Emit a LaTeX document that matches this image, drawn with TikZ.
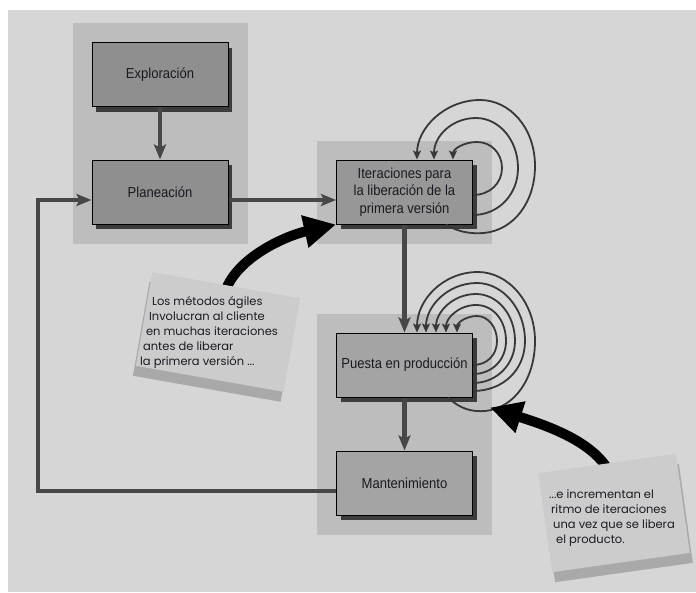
\documentclass[tikz,border=0pt]{standalone}
\usepackage{fontspec}
\setmainfont{Liberation Sans}
\newfontfamily\boxfont[FakeStretch=0.9]{Liberation Sans}
\newfontfamily\notefont{Poppins}
\usetikzlibrary{arrows.meta,shadows,fit,backgrounds,calc}
\definecolor{bgc}{HTML}{D6D6D6}
\definecolor{panelc}{HTML}{BDBDBD}
\definecolor{boxa}{HTML}{8F8F8F}
\definecolor{boxb}{HTML}{979797}
\definecolor{boxc}{HTML}{A4A4A4}
\definecolor{shadc}{HTML}{3C3C3C}
\definecolor{connc}{HTML}{474747}
\definecolor{loopcol}{HTML}{383838}
\definecolor{notec}{HTML}{CCCCCC}
\definecolor{noteshc}{HTML}{A9A9A9}
\definecolor{txtc}{HTML}{1A1A22}
\pgfdeclarelayer{front}
\pgfsetlayers{background,main,front}
\newcommand{\notelines}[1]{\notefont\fontsize{11.5}{15}\selectfont\begin{tabular}{@{}l@{}}#1\end{tabular}}
\begin{document}
\begin{tikzpicture}[x=1pt,y=-1pt,
  procbox/.style={draw=black, line width=1pt, minimum width=136pt, minimum height=64pt,
    inner sep=2pt, align=center, text=txtc,
    font=\boxfont\fontsize{14.5}{17.7}\selectfont,
    drop shadow={shadow xshift=4pt, shadow yshift=-5pt, fill=shadc, opacity=1}},
  panel/.style={fill=panelc, draw=none, inner sep=19pt},
  conn/.style={draw=connc, line width=4.5pt, line join=miter,
    -{Stealth[length=15pt,width=12pt,inset=3pt]}},
  looparr/.style={draw=loopcol, line width=1.8pt,
    -{Stealth[length=9pt,width=8pt,inset=2pt]}},
  bigarrow/.style={draw=black, line width=10pt,
    -{Triangle[length=32pt,width=31pt]}},
  note/.style={fill=notec, minimum width=#1, inner sep=0pt},
  noteshadow/.style={fill=noteshc, minimum width=#1, inner sep=0pt},
  notetext/.style={inner sep=0pt, text=txtc}
]
\useasboundingbox (0,0) rectangle (696,592);

% boxes
\node[procbox, fill=boxa] (expl) at (160,74.5) {Exploración};
\node[procbox, fill=boxa] (plan) at (160,192) {Planeación};
\node[procbox, fill=boxb] (iter) at (404.5,192) {Iteraciones para\\la liberación de la\\primera versión};
\node[procbox, fill=boxc] (pues) at (404.5,365) {Puesta en producción};
\node[procbox, fill=boxc] (mant) at (404.5,483) {Mantenimiento};

% background and panels
\begin{scope}[on background layer]
  \fill[bgc] (8,10) rectangle (696,592);
  \node[panel, fit=(expl)(plan)] (p1) {};
  \node[panel, fit=(iter)] (p2) {};
  \node[panel, fit=(pues)(mant)] (p3) {};
\end{scope}

% main connectors
\coordinate (lc) at (38,200);
\draw[conn] (expl) -- (plan);
\draw[conn] ([yshift=-8pt]plan.east) -- ([yshift=-8pt]iter.west);
\draw[conn] (iter) -- (pues);
\draw[conn] (pues) -- (mant);
\draw[conn] ([yshift=-8pt]mant.west) -| (lc) -- ([yshift=-8pt]plan.west);

% loops around Iteraciones
\draw[looparr] ([yshift=-3pt]iter.east) .. controls (490,195) and (502,183) .. (502,168)
  .. controls (502,153) and (491,142) .. (477,142)
  .. controls (464,142) and (453,149) .. ([xshift=-20pt]iter.north east);
\draw[looparr] ([yshift=-23pt]iter.east) .. controls (498,215) and (518,195) .. (518,168)
  .. controls (518,140) and (499,118) .. (476,118)
  .. controls (452,118) and (434,136) .. ([xshift=-39pt]iter.north east);
\draw[looparr] ([xshift=-27pt]iter.south east) .. controls (458,232) and (470,234) .. (484,233)
  .. controls (514,230) and (535,202) .. (535,166)
  .. controls (535,128) and (510,100) .. (480,100)
  .. controls (445,100) and (417,128) .. ([xshift=-56pt]iter.north east);

% loops around Puesta en produccion
\draw[looparr] (pues.east) .. controls (487,365) and (497,355) .. (497,341)
  .. controls (497,327) and (488,316) .. (477,316)
  .. controls (466,316) and (457,323) .. ([xshift=-16pt]pues.north east);
\draw[looparr] ([yshift=-9pt]pues.east) .. controls (492,374) and (506,360) .. (506,341)
  .. controls (506,320) and (493,305) .. (476,305)
  .. controls (459,305) and (446,318) .. ([xshift=-27pt]pues.north east);
\draw[looparr] ([yshift=-18pt]pues.east) .. controls (497,383) and (515,364) .. (515,341)
  .. controls (515,314) and (497,294) .. (476,294)
  .. controls (453,294) and (436,312) .. ([xshift=-37pt]pues.north east);
\draw[looparr] ([yshift=-26pt]pues.east) .. controls (503,391) and (525,370) .. (525,341)
  .. controls (525,308) and (502,283) .. (477,283)
  .. controls (448,283) and (426,306) .. ([xshift=-47pt]pues.north east);
\draw[looparr] ([xshift=-25pt]pues.south east) .. controls (460,409) and (472,412) .. (485,411)
  .. controls (515,408) and (535,378) .. (535,341)
  .. controls (535,302) and (508,272) .. (478,272)
  .. controls (443,272) and (417,300) .. ([xshift=-56pt]pues.north east);

% notes
\begin{pgfonlayer}{front}
  \node[noteshadow=150pt, minimum height=95pt, rotate=-10] (n1s) at (215,342) {};
  \node[note=150pt, minimum height=95pt, rotate=-10] (n1) at (218,332) {};
  \node[notetext] (t1) at ([xshift=-9pt]n1.center)
    {\notelines{\hspace*{12pt}Los métodos ágiles\\\hspace*{9pt}Involucran al cliente\\\hspace*{6pt}en muchas iteraciones\\\hspace*{3pt}antes de liberar\\la primera versión ...}};
  \node[noteshadow=139pt, minimum height=100pt, rotate=8] (n2s) at (617,523) {};
  \node[note=139pt, minimum height=100pt, rotate=8] (n2) at (614,513) {};
  \node[notetext] (t2) at ([xshift=-2pt,yshift=-5pt]n2.center)
    {\notelines{...e incrementan el\\\hspace*{2pt}ritmo de iteraciones\\\hspace*{4pt}una vez que se libera\\\hspace*{7pt}el producto.}};
\end{pgfonlayer}

% big curved arrows
\draw[bigarrow] ($(n1.north)!0.15!(n1.center)$) .. controls (236,258) and (285,236) .. (iter.south west);
\draw[bigarrow] ($(n2.north)!0.12!(n2.center)$) .. controls (590,440) and (545,425) .. ([xshift=17pt,yshift=-10pt]pues.south east);
\end{tikzpicture}
\end{document}
